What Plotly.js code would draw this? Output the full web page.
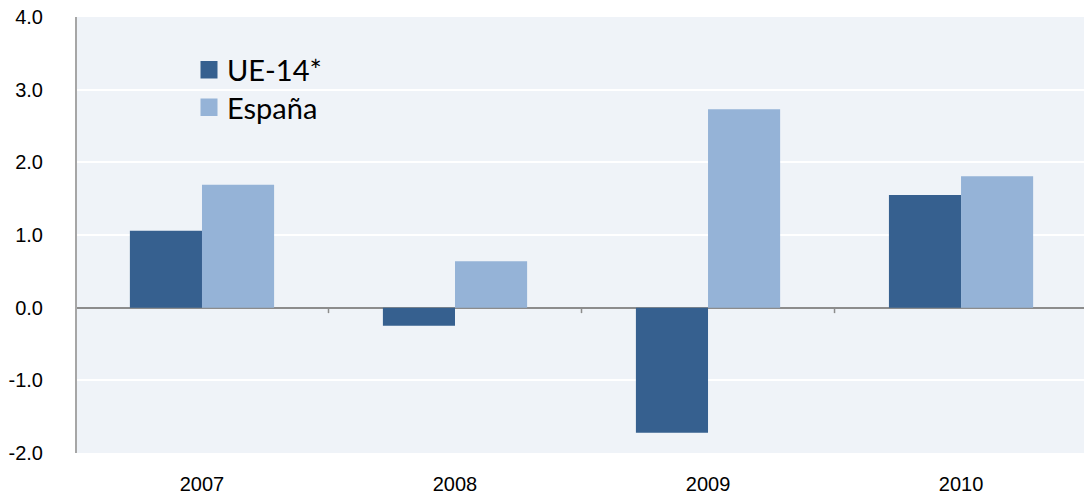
<!DOCTYPE html>
<html>
<head>
<meta charset="utf-8">
<script src="https://cdn.plot.ly/plotly-3.0.1.min.js"></script>
<style>
  html, body { margin: 0; padding: 0; background: #ffffff; }
  #chart { width: 1084px; height: 497px; }
</style>
</head>
<body>
<div id="chart"></div>
<script>
// Annual variation by year, EU-14 vs Spain
const years = ['2007', '2008', '2009', '2010'];
const seriesNames = ['UE-14*', 'España'];
const ue14 = [1.06, -0.25, -1.72, 1.55];
const espana = [1.69, 0.64, 2.73, 1.81];
const yTicks = [-2, -1, 0, 1, 2, 3, 4];
const yTickText = yTicks.map(v => v.toFixed(1));

const colors = ['#36608f', '#95b3d7'];

const traces = [
  { type: 'bar', name: seriesNames[0], x: years, y: ue14,
    marker: { color: colors[0], line: { width: 0 } }, showlegend: false, hoverinfo: 'x+y' },
  { type: 'bar', name: seriesNames[1], x: years, y: espana,
    marker: { color: colors[1], line: { width: 0 } }, showlegend: false, hoverinfo: 'x+y' }
];

// Plot area in pixels, used to place the hand-drawn legend
const L = 77, R = 1084, T = 17, B = 453;
const px = v => (v - L) / (R - L);
const py = v => (B - v) / (B - T);

// Small tick marks on the zero line between categories
const tickShapes = [0.5, 1.5, 2.5].map(xv => ({
  type: 'line', xref: 'x', yref: 'y', x0: xv, x1: xv, y0: 0, y1: -0.075,
  line: { color: '#8c8c8c', width: 1.5 }, layer: 'above'
}));

const legendShapes = seriesNames.map((n, i) => {
  const top = i === 0 ? 61 : 98.5;
  return {
    type: 'rect', xref: 'paper', yref: 'paper',
    x0: px(200.5), x1: px(217.5), y0: py(top + 17.5), y1: py(top),
    fillcolor: colors[i], line: { width: 0 }, layer: 'above'
  };
});

const legendText = seriesNames.map((n, i) => ({
  xref: 'paper', yref: 'paper', x: px(225), y: py(i === 0 ? 69.5 : 107.5),
  xanchor: 'left', yanchor: 'middle', text: n, showarrow: false,
  font: { family: 'Lato, "Open Sans", sans-serif', size: 29, color: '#000000' }
}));

const layout = {
  width: 1084, height: 497,
  margin: { l: L, r: 0, t: T, b: 497 - B, pad: 0 },
  paper_bgcolor: '#ffffff',
  plot_bgcolor: '#eff3f8',
  barmode: 'group',
  bargap: 0.43,
  bargroupgap: 0,
  font: { family: '"Liberation Sans", Arial, sans-serif', size: 20, color: '#000000' },
  xaxis: {
    type: 'category',
    range: [-0.494, 3.486],
    showgrid: false,
    zeroline: false,
    showline: false,
    ticks: 'outside', ticklen: 13, tickcolor: 'rgba(0,0,0,0)',
    tickfont: { size: 20, color: '#000000' },
    fixedrange: true
  },
  yaxis: {
    range: [-2, 4],
    tickvals: yTicks,
    ticktext: yTickText,
    showgrid: true, gridcolor: '#ffffff', gridwidth: 2,
    zeroline: true, zerolinecolor: '#8c8c8c', zerolinewidth: 2,
    showline: true, linecolor: '#a6a6a6', linewidth: 2,
    ticks: 'outside', ticklen: 28, tickcolor: 'rgba(0,0,0,0)',
    tickfont: { size: 20, color: '#000000' },
    fixedrange: true
  },
  shapes: tickShapes.concat(legendShapes),
  annotations: legendText,
  showlegend: false
};

Plotly.newPlot('chart', traces, layout, { displayModeBar: false, staticPlot: true });
</script>
</body>
</html>
